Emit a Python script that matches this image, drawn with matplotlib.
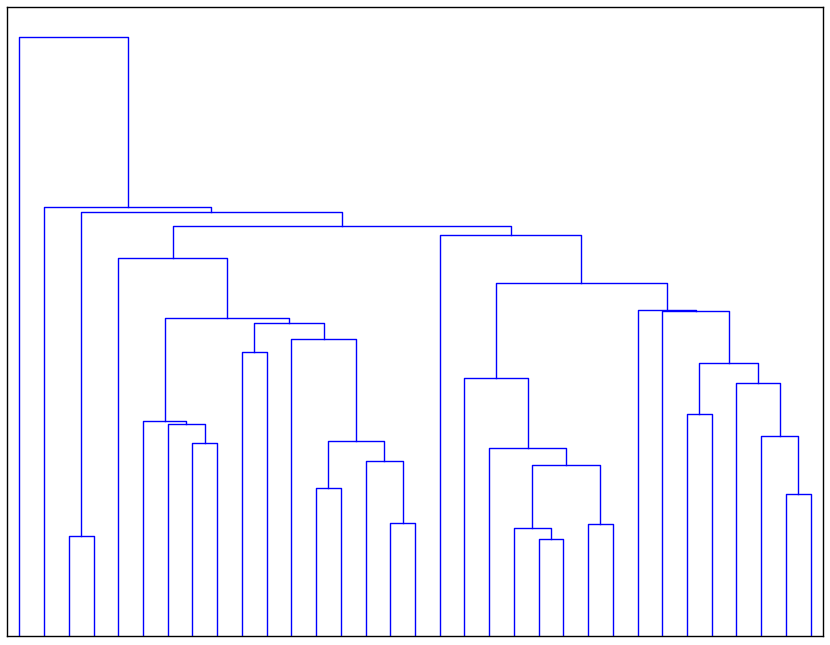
import matplotlib
matplotlib.use('Agg')
import matplotlib.pyplot as plt

# leaves are listed in display order, merged clusters get ids n_leaves + row
n_leaves = 33
left_ids = [2, 7, 6, 5, 9, 12, 15, 14, 38, 11, 37, 36, 4,
            21, 20, 23, 47, 19, 18, 27, 31, 30, 29, 52, 26, 25, 51, 17, 45, 33, 1, 0]
right_ids = [3, 8, 34, 35, 10, 13, 16, 39, 40, 41, 42, 43, 44,
             22, 46, 24, 48, 49, 50, 28, 32, 53, 54, 55, 56, 57, 58, 59, 60, 61, 62, 63]
heights = [99.7, 193.3, 211.7, 215.0, 283.7, 148.0, 113.3, 174.7, 194.7, 296.7, 313.0, 318.3, 378.3,
           97.0, 107.7, 112.3, 171.0, 187.7, 258.0, 222.3, 141.7, 200.3, 253.3, 273.0, 325.3, 326.3,
           353.3, 401.0, 409.7, 423.7, 428.7, 599.0]

node_x = {i: 5 + 10 * i for i in range(n_leaves)}
node_h = {i: 0.0 for i in range(n_leaves)}

fig = plt.figure(figsize=(8.3, 6.45), dpi=100)
ax = fig.add_axes([7 / 830, 9 / 645, 816 / 830, 629 / 645])

for k, (a, b, h) in enumerate(zip(left_ids, right_ids, heights)):
    xa, xb = node_x[a], node_x[b]
    ax.plot([xa, xa, xb, xb], [node_h[a], h, h, node_h[b]], color='b', lw=1.0)
    node_x[n_leaves + k] = (xa + xb) / 2.0
    node_h[n_leaves + k] = h

ax.set_xlim(0, 10 * n_leaves)
ax.set_ylim(0, max(heights) * 1.05)
ax.set_xticks([])
ax.set_yticks([])
for s in ax.spines.values():
    s.set_linewidth(1.0)

fig.savefig('out.png', dpi=100)
